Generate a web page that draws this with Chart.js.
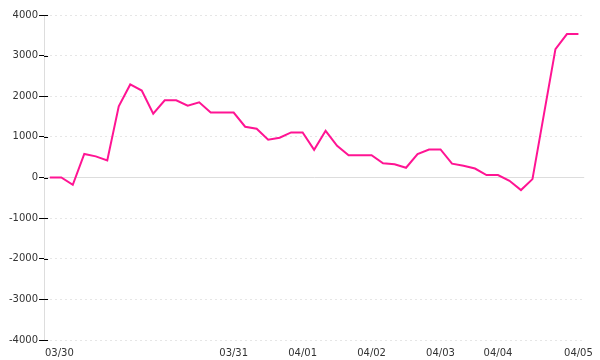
<!DOCTYPE html>
<html>
<head>
<meta charset="utf-8">
<script src="https://cdn.jsdelivr.net/npm/chart.js@4/dist/chart.umd.min.js"></script>
<style>
    body { margin: 0; background: #fff; }
    #wrap { width: 600px; height: 360px; }
</style>
</head>
<body>
<div id="wrap"><canvas id="graphCanvas"></canvas></div>
<script>
// one label per point, empty where no date is shown
var xLabels = [
    '03/30', '', '', '', '', '', '', '', '', '', '', '', '', '', '', '',
    '03/31', '', '', '', '', '',
    '04/01', '', '', '', '', '',
    '04/02', '', '', '', '', '',
    '04/03', '', '', '', '',
    '04/04', '', '', '', '', '', '',
    '04/05'
];

var values = [
    0, 0, -180, 580, 520, 420, 1750, 2290, 2140, 1570, 1900, 1900,
    1770, 1850, 1600, 1600, 1600, 1250, 1200, 930, 980, 1110, 1110,
    680, 1150, 780, 550, 550, 550, 350, 325, 240, 575, 690, 690,
    340, 290, 220, 60, 60, -80, -310, -40, 1560, 3160, 3530, 3530
];

var yMin = -4000;
var yMax = 4000;
var yStep = 1000;

// short black tick marks that reach into the plot
var innerTicks = {
    id: 'innerTicks',
    afterDraw: function (chart) {
        var y = chart.scales.y;
        var ctx = chart.ctx;
        ctx.save();
        ctx.strokeStyle = '#000';
        ctx.lineWidth = 1;
        y.ticks.forEach(function (t) {
            var py = Math.round(y.getPixelForValue(t.value)) + 0.5;
            ctx.beginPath();
            ctx.moveTo(y.right, py);
            ctx.lineTo(y.right + 4, py);
            ctx.stroke();
        });
        ctx.restore();
    }
};

var chartdata = {
    labels: xLabels,
    datasets: [
        {
            data: values,
            borderColor: '#ff1493',
            backgroundColor: '#ff1493',
            borderWidth: 2,
            pointRadius: 0,
            tension: 0,
            fill: false
        }
    ]
};

var graphTarget = document.getElementById('graphCanvas');

var lineGraph = new Chart(graphTarget, {
    type: 'line',
    data: chartdata,
    options: {
        responsive: true,
        maintainAspectRatio: false,
        animation: false,
        layout: { padding: { left: 8, right: 15, top: 15, bottom: -6 } },
        plugins: {
            legend: { display: false },
            tooltip: { enabled: false }
        },
        scales: {
            x: {
                type: 'category',
                offset: true,
                grid: { display: false, drawTicks: false },
                border: { display: false },
                ticks: {
                    autoSkip: false,
                    maxRotation: 0,
                    padding: 7,
                    color: '#333',
                    font: { family: 'DejaVu Sans', size: 10 },
                    callback: function (val, i) {
                        var s = this.getLabelForValue(val);
                        return i === 0 ? '      ' + s : s;
                    }
                }
            },
            y: {
                min: yMin,
                max: yMax,
                grid: {
                    color: function (c) {
                        return c.tick && c.tick.value === 0 ? '#dddddd' : '#e6e6e6';
                    },
                    tickColor: '#000',
                    tickLength: 5
                },
                border: {
                    color: '#dddddd',
                    dash: function (c) {
                        return c.tick && c.tick.value === 0 ? [] : [2, 3];
                    }
                },
                ticks: {
                    stepSize: yStep,
                    padding: 1,
                    color: '#333',
                    font: { family: 'DejaVu Sans', size: 10 },
                    callback: function (v) {
                        return String(v);
                    }
                }
            }
        }
    },
    plugins: [innerTicks]
});
</script>
</body>
</html>
